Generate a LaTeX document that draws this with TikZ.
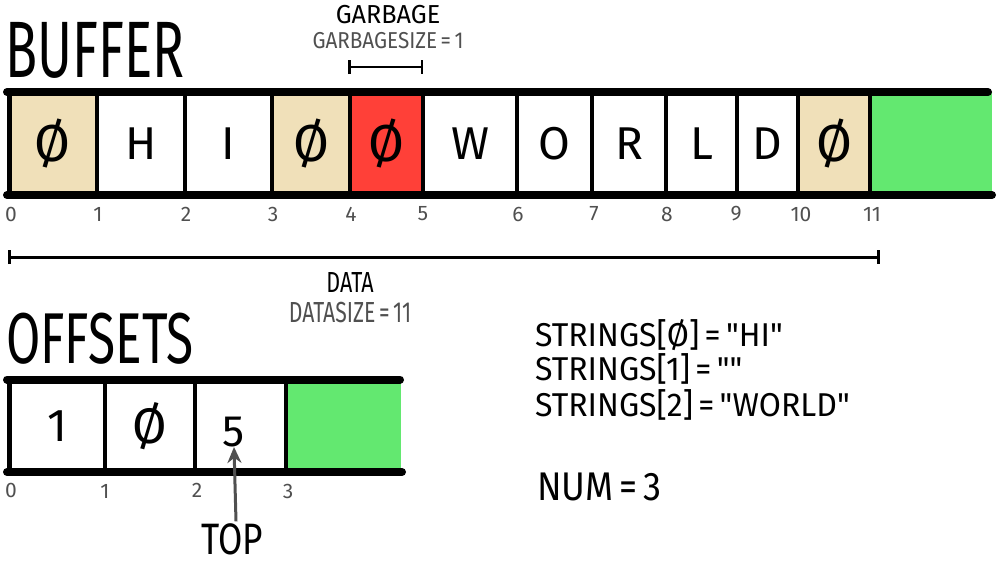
\documentclass[tikz,border=0pt]{standalone}
\usepackage{fontspec}
\setmainfont{Fira Sans}[Ligatures=TeXOff]
\usetikzlibrary{arrows.meta}
\definecolor{tanc}{HTML}{F0E0B9}
\definecolor{garbc}{HTML}{FF4038}
\definecolor{freec}{HTML}{63E870}
\definecolor{lblc}{HTML}{505050}
\newcommand\hw[3]{\scalebox{#1}[1]{\fontsize{#2}{#2}\selectfont #3}}
\newcommand\dq{\char34 }
\begin{document}
\begin{tikzpicture}[x=1pt,y=-1pt,
  bcell/.style={inner sep=0pt, outer sep=0pt, minimum height=103pt},
  ocell/.style={inner sep=0pt, outer sep=0pt, minimum height=92.5pt},
  txt/.style={inner sep=0pt, outer sep=0pt},
  idx/.style={inner sep=0pt, text=lblc, font=\fontsize{21}{21}\selectfont},
  heavy/.style={line width=8pt, line cap=round},
  divider/.style={line width=4pt},
  bracket/.style={line width=3pt, {Bar[width=14pt]}-{Bar[width=14pt]}},
  pointer/.style={line width=3pt, draw=lblc, -{Stealth[length=16pt,width=14pt]}}]
\useasboundingbox (0,0) rectangle (1008,566);

% ---------- titles ----------
\node[txt] (buffer) at (95,50) {\hw{0.66}{80}{BUFFER}};
\node[txt] (offsets) at (100,339) {\hw{0.69}{72}{OFFSETS}};

% ---------- buffer cells ----------
\node[bcell, fill=tanc,  minimum width=90pt] (b0) at (52,143.5) {\hw{1}{52}{Ø}};
\node[bcell, fill=white, minimum width=88pt] (b1) at (141,143.5) {\hw{1}{46}{H}};
\node[bcell, fill=white, minimum width=87pt] (b2) at (228.5,143.5) {\hw{1}{46}{I}};
\node[bcell, fill=tanc,  minimum width=78pt] (b3) at (311,143.5) {\hw{1}{52}{Ø}};
\node[bcell, fill=garbc, minimum width=73pt] (b4) at (386.5,143.5) {\hw{1}{52}{Ø}};
\node[bcell, fill=white, minimum width=94pt] (b5) at (470,143.5) {\hw{1}{46}{W}};
\node[bcell, fill=white, minimum width=75pt] (b6) at (554.5,143.5) {\hw{1}{46}{O}};
\node[bcell, fill=white, minimum width=74pt] (b7) at (629,143.5) {\hw{1}{46}{R}};
\node[bcell, fill=white, minimum width=71pt] (b8) at (701.5,143.5) {\hw{1}{46}{L}};
\node[bcell, fill=white, minimum width=61pt] (b9) at (767.5,143.5) {\hw{1}{46}{D}};
\node[bcell, fill=tanc,  minimum width=72pt] (b10) at (834,143.5) {\hw{1}{52}{Ø}};
\node[bcell, fill=freec, minimum width=122pt] (b11) at (931,143.5) {};

\draw[heavy] (7,92) -- (988,92);
\draw[heavy] (7,195) -- (992,195);
\draw[line width=5pt] (9.5,92) -- (9.5,195);
\foreach \x in {97,185,272,350,423,517,592,666,737,798,870}
  \draw[divider] (\x,92) -- (\x,195);

% buffer indices
\node[idx] (i0) at (11,214) {0};
\node[idx] (i1) at (98,214) {1};
\node[idx] (i2) at (186,214) {2};
\node[idx] (i3) at (273,214) {3};
\node[idx] (i4) at (351,214) {4};
\node[idx] (i5) at (423,214) {5};
\node[idx] (i6) at (518,214) {6};
\node[idx] (i7) at (594,214) {7};
\node[idx] (i8) at (667,214) {8};
\node[idx] (i9) at (736,214) {9};
\node[idx] (i10) at (801,214) {10};
\node[idx] (i11) at (872,214) {11};

% garbage bracket
\coordinate (g0) at (348,67);
\coordinate (g1) at (423,67);
\draw[bracket, line width=2.5pt] (g0) -- (g1);
\node[txt] (garb) at (388,15) {\hw{0.97}{26}{GARBAGE}};
\node[txt, text=lblc] (garbsize) at (388,41) {\hw{0.9}{23}{GARBAGESIZE\,=\,1}};

% data bracket
\coordinate (d0) at (8,257);
\coordinate (d1) at (880,257);
\draw[bracket] (d0) -- (d1);
\node[txt] (data) at (350,282) {\hw{0.74}{29}{DATA}};
\node[txt, text=lblc] (datasize) at (350,312) {\hw{0.73}{29}{DATASIZE\,=\,11}};

% ---------- offsets ----------
\node[ocell, fill=white, minimum width=96pt] (o0) at (57,426) {\hw{1}{46}{1}};
\node[ocell, fill=white, minimum width=90pt] (o1) at (150,426) {\hw{1}{50}{Ø}};
\node[ocell, fill=white, minimum width=91pt] (o2) at (240.5,426) {};
\node[txt] (five) at (234,432) {\hw{1}{44}{5}};
\node[ocell, fill=freec, minimum width=115pt] (o3) at (343.5,426) {};

\draw[heavy] (7,379.5) -- (400,379.5);
\draw[heavy] (7,472) -- (402,472);
\draw[line width=5pt] (9.5,379.5) -- (9.5,472);
\foreach \x in {105,195,286}
  \draw[divider] (\x,379.5) -- (\x,472);

\node[idx] (j0) at (11,490) {0};
\node[idx] (j1) at (105,491) {1};
\node[idx] (j2) at (197,490) {2};
\node[idx] (j3) at (288,491) {3};

\node[txt] (top) at (232,539) {\hw{0.8}{44}{TOP}};
\draw[pointer] (top.north) ++(4,-2) coordinate (tp) (tp) -- (five.south);

% ---------- strings ----------
\node[txt, anchor=base west] (s0) at (535,346) {\hw{0.97}{33}{STRINGS[Ø]\,=\,\dq HI\dq}};
\node[txt, anchor=base west] (s1) at (535,380) {\hw{0.97}{33}{STRINGS[1]\,=\,\dq\dq}};
\node[txt, anchor=base west] (s2) at (535,416) {\hw{0.97}{33}{STRINGS[2]\,=\,\dq WORLD\dq}};
\node[txt, anchor=base west] (num) at (537,500) {\hw{0.9}{40}{NUM\,=\,3}};
\end{tikzpicture}
\end{document}
